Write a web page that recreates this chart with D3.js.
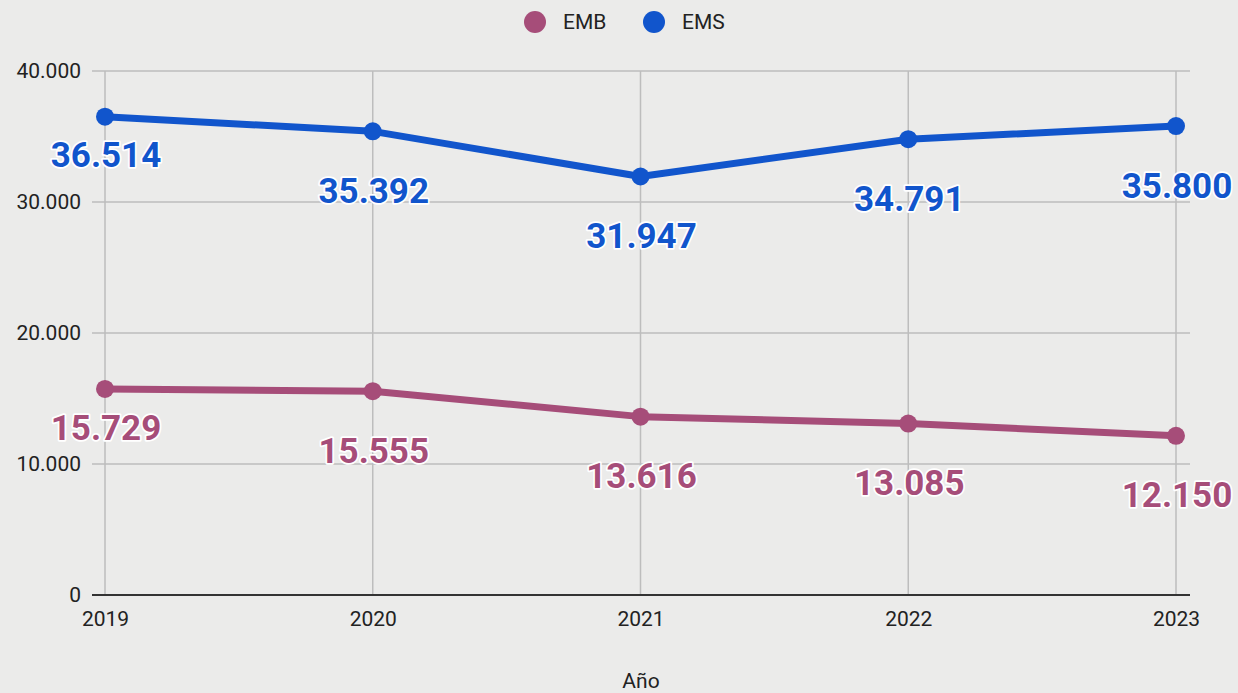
<!DOCTYPE html>
<html><head><meta charset="utf-8">
<script src="https://cdn.jsdelivr.net/npm/d3@7"></script>
<style>
html,body{margin:0;padding:0;background:#ebebea;}
svg{display:block;font-family:Roboto, "Noto Sans", sans-serif;}
</style></head>
<body><svg id="c" width="1238" height="693"></svg>
<script>
const years = ["2019","2020","2021","2022","2023"];
const emb = [15729, 15555, 13616, 13085, 12150];
const ems = [36514, 35392, 31947, 34791, 35800];
const yTicks = [0, 10000, 20000, 30000, 40000];
const seriesNames = ["EMB","EMS"];
const seriesColors = ["#a64d79","#1155cc"];
const labelOffsets = [38, 59, 59, 59, 59];

const svg = d3.select("#c");
const loc = d3.formatLocale({decimal:",", thousands:".", grouping:[3], currency:["","€"]});
const fmt = loc.format(",d");

const x = d3.scalePoint().domain(years).range([105, 1176]);
const y = d3.scaleLinear().domain([0, 40000]).range([595, 71]);

svg.append("rect").attr("width",1238).attr("height",693).attr("fill","#ebebea");

svg.append("g").selectAll("line").data(yTicks.filter(d=>d>0)).join("line")
  .attr("x1",92).attr("x2",1190).attr("y1",d=>y(d)).attr("y2",d=>y(d))
  .attr("stroke","#bdbdbd").attr("stroke-width",1.5);
svg.append("g").selectAll("line").data(years).join("line")
  .attr("x1",d=>x(d)).attr("x2",d=>x(d)).attr("y1",y(40000)).attr("y2",y(0))
  .attr("stroke","#bdbdbd").attr("stroke-width",1.5);
svg.append("line").attr("x1",92).attr("x2",1190).attr("y1",y(0)).attr("y2",y(0))
  .attr("stroke","#333").attr("stroke-width",2);

const yAxis = d3.axisLeft(y).tickValues(yTicks).tickSize(0).tickPadding(0).tickFormat(fmt);
const ya = svg.append("g").attr("transform","translate(81,0)").call(yAxis);
ya.select(".domain").remove();
ya.selectAll("text").attr("font-size",21).attr("fill","#222").attr("font-family","Roboto");

const xAxis = d3.axisBottom(x).tickSize(0).tickPadding(0);
const xa = svg.append("g").attr("transform","translate(0,611)").call(xAxis);
xa.select(".domain").remove();
xa.selectAll("text").attr("font-size",21).attr("fill","#222").attr("font-family","Roboto");

svg.append("text").attr("x",641).attr("y",688).attr("text-anchor","middle")
  .attr("font-size",21).attr("fill","#222").text("Año");

const series = [emb, ems];
const line = d3.line().x((d,i)=>x(years[i])).y(d=>y(d));
series.forEach((vals, si) => {
  const col = seriesColors[si];
  svg.append("path").datum(vals).attr("d", line).attr("fill","none")
    .attr("stroke", col).attr("stroke-width", 7).attr("stroke-linejoin","round");
  svg.append("g").selectAll("circle").data(vals).join("circle")
    .attr("cx",(d,i)=>x(years[i])).attr("cy",d=>y(d)).attr("r",9).attr("fill",col);
});
series.forEach((vals, si) => {
  const col = seriesColors[si];
  svg.append("g").selectAll("text").data(vals).join("text")
    .attr("x",(d,i)=>x(years[i])+1).attr("y",(d,i)=>y(d)+labelOffsets[i])
    .attr("dy","0.36em").attr("text-anchor","middle")
    .attr("font-size",35).attr("font-weight","bold").attr("fill",col)
    .attr("stroke","#ffffff").attr("stroke-width",3.5).attr("paint-order","stroke")
    .attr("stroke-linejoin","round")
    .text(d=>fmt(d));
});

const legX = [535, 654];
seriesNames.forEach((n, i) => {
  svg.append("circle").attr("cx",legX[i]).attr("cy",22).attr("r",11).attr("fill",seriesColors[i]);
  svg.append("text").attr("x",legX[i]+28).attr("y",22).attr("dy","0.35em")
    .attr("font-size",21).attr("fill","#222").text(n);
});
</script></body></html>
